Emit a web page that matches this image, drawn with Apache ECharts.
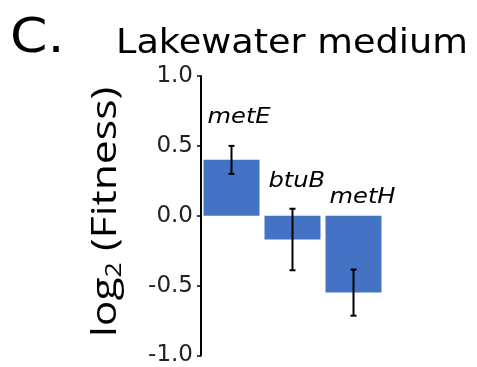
<!DOCTYPE html>
<html><head><meta charset="utf-8">
<script src="https://cdn.jsdelivr.net/npm/echarts@6/dist/echarts.min.js"></script>
<style>html,body{margin:0;padding:0;background:#fff}#c{width:477px;height:367px}</style>
</head><body><div id="c"></div>
<script>
var categories = ['metE', 'btuB', 'metH'];
var fitness = [0.40, -0.17, -0.55];
var errors = [0.10, 0.22, 0.165];
var yTicks = [-1.0, -0.5, 0.0, 0.5, 1.0];
var labelGap = [18, 17, 8];

var chart = echarts.init(document.getElementById('c'), null, {renderer: 'canvas'});
var errData = categories.map(function (c, i) { return [i, fitness[i], errors[i]]; });

chart.setOption({
  animation: false,
  grid: {left: 201, top: 76, width: 183, bottom: 11, containLabel: false},
  graphic: [
    {type: 'text', x: 10, y: 16, scaleX: 1.12,
      style: {text: 'C.', font: '48px "DejaVu Sans"', fill: '#000', textAlign: 'left', textVerticalAlign: 'top'}},
    {type: 'text', x: 116, y: 28, scaleX: 1.11,
      style: {text: 'Lakewater medium', font: '33px "DejaVu Sans"', fill: '#000', textAlign: 'left', textVerticalAlign: 'top'}},
    {type: 'text', x: 106, y: 212, rotation: Math.PI / 2, scaleX: 1.22,
      style: {text: 'log{s|2} (Fitness)', fontFamily: 'Open Sans', fontSize: 35, fill: '#000',
        textAlign: 'center', textVerticalAlign: 'middle',
        rich: {s: {fontFamily: 'Open Sans', fontSize: 22, fill: '#000', padding: [18, 0, 0, 0]}}}}
  ],
  xAxis: {
    type: 'category', data: categories, show: false
  },
  yAxis: {
    type: 'value', min: yTicks[0], max: yTicks[yTicks.length - 1], interval: 0.5,
    axisLine: {show: true, lineStyle: {color: '#000', width: 2}},
    axisTick: {show: true, length: 4, lineStyle: {color: '#000', width: 1.5}},
    splitLine: {show: false},
    axisLabel: {fontFamily: 'DejaVu Sans', fontSize: 23, color: '#222', margin: 8,
      formatter: function (v) { return v.toFixed(1); }}
  },
  series: [
    {
      type: 'bar', data: fitness, barWidth: 56,
      itemStyle: {color: '#4472C4'}
    },
    {
      type: 'custom', data: errData, z: 5,
      renderItem: function (params, api) {
        var i = api.value(0), m = api.value(1), e = api.value(2);
        var top = api.coord([i, m + e]);
        var bot = api.coord([i, m - e]);
        var x = top[0];
        var bw = 56;
        var anchor = api.coord([i, Math.max(0, m + e)]);
        var cap = 3;
        return {type: 'group', children: [
          {type: 'line', shape: {x1: x, y1: top[1], x2: x, y2: bot[1]}, style: {stroke: '#000', lineWidth: 2}},
          {type: 'line', shape: {x1: x - cap, y1: top[1], x2: x + cap, y2: top[1]}, style: {stroke: '#000', lineWidth: 2}},
          {type: 'line', shape: {x1: x - cap, y1: bot[1], x2: x + cap, y2: bot[1]}, style: {stroke: '#000', lineWidth: 2}},
          {type: 'text', x: x - bw / 2 + 4, y: anchor[1] - labelGap[params.dataIndex], scaleX: 1.15,
            style: {text: categories[params.dataIndex], font: 'italic 21px "DejaVu Sans"', fill: '#000',
              textAlign: 'left', textVerticalAlign: 'bottom'}}
        ]};
      }
    }
  ]
});
</script></body></html>
